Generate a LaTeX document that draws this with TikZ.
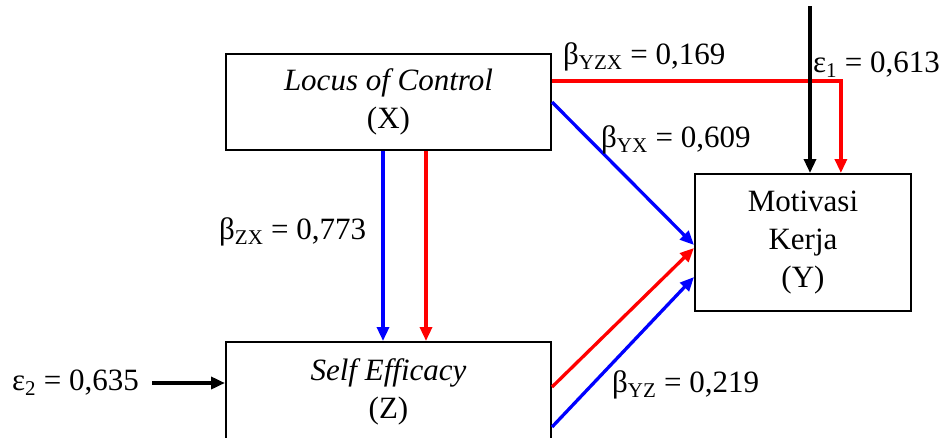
\documentclass[tikz,border=0pt]{standalone}
\usepackage{fontspec}
\setmainfont{Liberation Serif}
\newfontfamily\tnr{Liberation Serif}
\usetikzlibrary{arrows.meta}
\definecolor{myred}{RGB}{255,0,0}
\definecolor{myblue}{RGB}{0,0,255}
\tikzset{
  box/.style={draw=black, line width=2pt, inner sep=0pt, align=center, font=\tnr\fontsize{31}{38}\selectfont},
  lbl/.style={font=\tnr\fontsize{31}{36}\selectfont, inner sep=0pt, anchor=west},
  conn/.style={line width=3.3pt, -{Triangle[length=14pt,width=12pt]}},
  rline/.style={conn, color=myred},
  bline/.style={conn, color=myblue},
  kline/.style={conn, color=black},
}
\begin{document}
\begin{tikzpicture}[x=1pt,y=-1pt]
\clip (0,0) rectangle (945,437);
\fill[white] (0,0) rectangle (945,437);
% boxes
\node[box, minimum width=325pt, minimum height=96pt] (X) at (388.5,102) {\textit{Locus of Control}\\(X)};
\node[box, minimum width=325pt, minimum height=100pt] (Z) at (388.5,392) {\textit{Self Efficacy}\\(Z)};
\node[box, minimum width=216pt, minimum height=137pt] (Y) at (803,242.5) {Motivasi\\Kerja\\(Y)};
% free end points
\coordinate (etop) at (810,6);
\coordinate (eleft) at (152,383);
% X -> Z
\draw[bline] ([xshift=-5.5pt]X.south) -- ([xshift=-5.5pt]Z.north);
\draw[rline] ([xshift=37.5pt]X.south) -- ([xshift=37.5pt]Z.north);
% X -> Y
\draw[line width=3.3pt, myred] ([yshift=21pt]X.east) -- ++(290.5,0) coordinate (rc);
\draw[rline] ([xshift=-1.6pt]rc) -- ([xshift=-1.6pt]rc |- Y.north);
\draw[kline] (etop) -- (etop |- Y.north);
\draw[bline] (X.east) -- ([yshift=-2.5pt]Y.west);
% Z -> Y
\draw[rline] ([yshift=5pt]Z.east) -- ([yshift=-5.5pt]Y.west);
\draw[bline] ([yshift=-35pt]Z.east) -- ([yshift=-34.5pt]Y.west);
% e2
\draw[kline, line width=4pt] (eleft) -- (eleft -| Z.west);
% labels
\node[lbl] (l1) at (563,57) {β\textsubscript{\fontsize{21}{24}\selectfont YZX} = 0,169};
\node[lbl] (l2) at (813,65) {ε\textsubscript{\fontsize{21}{24}\selectfont 1} = 0,613};
\node[lbl] (l3) at (601,140) {β\textsubscript{\fontsize{21}{24}\selectfont YX} = 0,609};
\node[lbl] (l4) at (219,232) {β\textsubscript{\fontsize{21}{24}\selectfont ZX} = 0,773};
\node[lbl] (l5) at (612,385) {β\textsubscript{\fontsize{21}{24}\selectfont YZ} = 0,219};
\node[lbl] (l6) at (12,383) {ε\textsubscript{\fontsize{21}{24}\selectfont 2} = 0,635};
\end{tikzpicture}
\end{document}
